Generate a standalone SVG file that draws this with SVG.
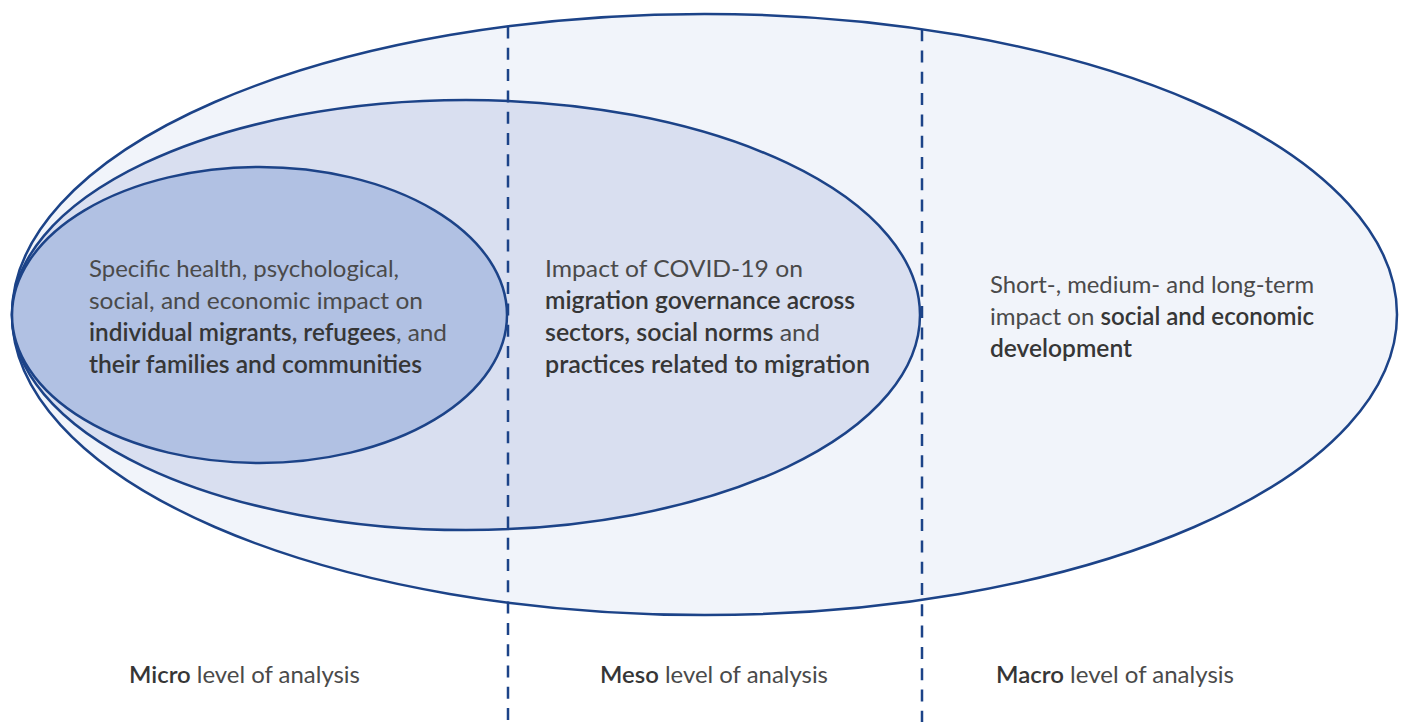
<svg xmlns="http://www.w3.org/2000/svg" width="1402" height="722" viewBox="0 0 1402 722">
<style>
.ell{stroke:#1c4388;stroke-width:2.5}
.dash{stroke:#1c4388;stroke-width:2.5;stroke-dasharray:12 9.3;fill:none}
text{font-family:Lato,"Open Sans","Liberation Sans",sans-serif;font-size:24px;fill:#4a4a4a}
.b{font-weight:600;fill:#363636}
.lbl{font-size:23px}
</style>
<rect width="1402" height="722" fill="#ffffff"/>
<g id="macro">
<ellipse class="ell" cx="704.5" cy="314.5" rx="692.5" ry="300.5" fill="#f1f4fa"/>
</g>
<g id="meso">
<ellipse class="ell" cx="466" cy="315" rx="454" ry="215" fill="#d9dff0"/>
</g>
<g id="micro">
<ellipse class="ell" cx="259.5" cy="315" rx="247.5" ry="148" fill="#b1c1e3"/>
</g>
<g id="connectors">
<line class="dash" x1="508" y1="26.5" x2="508" y2="722"/>
<line class="dash" x1="922" y1="29.2" x2="922" y2="722"/>
</g>
<g id="micro-text">
<text x="89" y="277" textLength="310" lengthAdjust="spacingAndGlyphs">Specific health, psychological,</text>
<text x="89" y="309" textLength="334" lengthAdjust="spacingAndGlyphs">social, and economic impact on</text>
<text x="89" y="341" textLength="358" lengthAdjust="spacingAndGlyphs"><tspan class="b">individual migrants, refugees</tspan>, and</text>
<text x="89" y="373" class="b" textLength="333" lengthAdjust="spacingAndGlyphs">their families and communities</text>
</g>
<g id="meso-text">
<text x="545" y="277" textLength="258" lengthAdjust="spacingAndGlyphs">Impact of COVID-19 on</text>
<text x="545" y="309" class="b" textLength="310" lengthAdjust="spacingAndGlyphs">migration governance across</text>
<text x="545" y="341" textLength="275" lengthAdjust="spacingAndGlyphs"><tspan class="b">sectors, social norms</tspan> and</text>
<text x="545" y="373" class="b" textLength="325" lengthAdjust="spacingAndGlyphs">practices related to migration</text>
</g>
<g id="macro-text">
<text x="990" y="293" textLength="324" lengthAdjust="spacingAndGlyphs">Short-, medium- and long-term</text>
<text x="990" y="325" textLength="324" lengthAdjust="spacingAndGlyphs">impact on <tspan class="b">social and economic</tspan></text>
<text x="990" y="357" class="b" textLength="142" lengthAdjust="spacingAndGlyphs">development</text>
</g>
<g id="labels">
<text class="lbl" x="129" y="683" textLength="231" lengthAdjust="spacingAndGlyphs"><tspan class="b">Micro</tspan> level of analysis</text>
<text class="lbl" x="600" y="683" textLength="228" lengthAdjust="spacingAndGlyphs"><tspan class="b">Meso</tspan> level of analysis</text>
<text class="lbl" x="996" y="683" textLength="238" lengthAdjust="spacingAndGlyphs"><tspan class="b">Macro</tspan> level of analysis</text>
</g>
</svg>
